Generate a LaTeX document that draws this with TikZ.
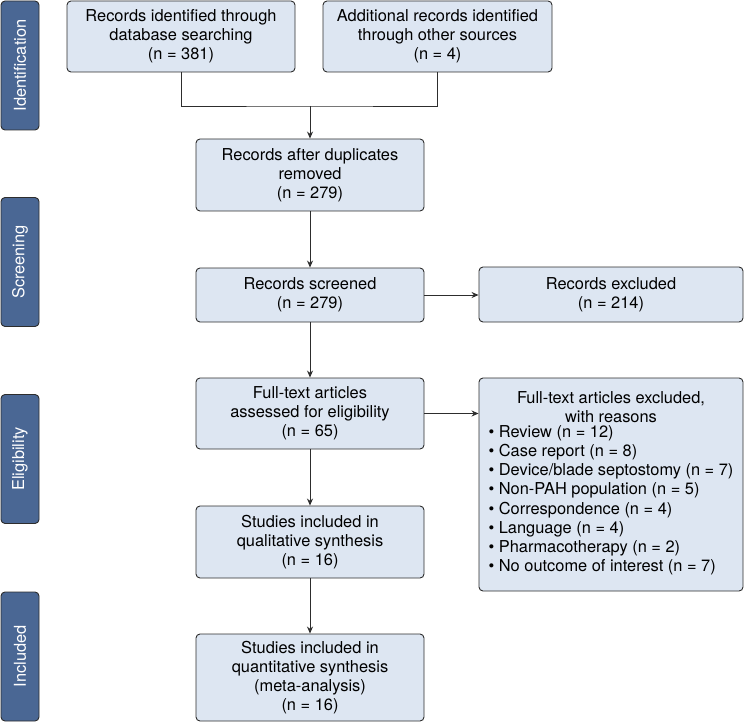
\documentclass[tikz,border=0pt]{standalone}
\usepackage{fontspec}
\setmainfont{TeX Gyre Heros}
\usetikzlibrary{arrows.meta}
\definecolor{boxfill}{RGB}{221,230,242}
\definecolor{sidefill}{RGB}{74,103,148}
\definecolor{edge}{RGB}{45,45,45}
\begin{document}
\begin{tikzpicture}[x=1pt, y=-1pt,
    font=\fontsize{16.4}{19.2}\selectfont,
    box/.style={draw=edge, fill=boxfill, rounded corners=4pt, line width=0.9pt, align=center, inner sep=0pt, minimum width=228pt},
    side/.style={draw=edge, fill=sidefill, rounded corners=4pt, line width=0.9pt, text=white, rotate=90, inner sep=0pt, minimum width=129pt, minimum height=38pt},
    arr/.style={-{Stealth[length=7pt,width=6pt]}, edge, line width=0.9pt},
    link/.style={edge, line width=0.9pt}]
    \useasboundingbox (0,0) rectangle (744,722);
    % phases on the left
    \node[side] (ident) at (20,65.5) {Identification};
    \node[side] (screen) at (20,262) {Screening};
    \node[side] (elig) at (20,459) {Eligibility};
    \node[side] (incl) at (20,656.5) {Included};
    % main column
    \node[box, minimum height=71pt] (rec1) at (181,36.5) {Records identified through\\database searching\\(n = 381)};
    \node[box, minimum height=71pt, minimum width=229pt] (rec2) at (437.5,36.5) {Additional records identified\\through other sources\\(n = 4)};
    \node[box, minimum height=72pt] (dup) at (310,175) {Records after duplicates\\removed\\(n = 279)};
    \node[box, minimum height=54pt] (screened) at (310,295) {Records screened\\(n = 279)};
    \node[box, minimum height=71pt] (full) at (310,413.5) {Full-text articles\\assessed for eligibility\\(n = 65)};
    \node[box, minimum height=72pt] (qual) at (310,542) {Studies included in\\qualitative synthesis\\(n = 16)};
    \node[box, minimum height=87pt] (quant) at (310,677.5) {Studies included in\\quantitative synthesis\\(meta-analysis)\\(n = 16)};
    % exclusions
    \node[box, minimum height=213pt, minimum width=264pt] (fullexcl) at (611,484.5) {Full-text articles excluded,\\with reasons\\[-0.2pt]
        \begin{tabular}{@{}l@{}}
        \textbullet\ Review (n = 12)\\
        \textbullet\ Case report (n = 8)\\
        \textbullet\ Device/blade septostomy (n = 7)\\
        \textbullet\ Non-PAH population (n = 5)\\
        \textbullet\ Correspondence (n = 4)\\
        \textbullet\ Language (n = 4)\\
        \textbullet\ Pharmacotherapy (n = 2)\\
        \textbullet\ No outcome of interest (n = 7)
        \end{tabular}};
    \node[box, minimum height=55pt, minimum width=264pt] (excl) at (611,294.5) {Records excluded\\(n = 214)};
    % connectors
    \coordinate (join) at (310,106);
    \draw[link] (rec1.south) |- (join) -| (rec2.south);
    \draw[arr] (join) -- (dup.north);
    \draw[arr] (dup) -- (screened);
    \draw[arr] (screened) -- (full);
    \draw[arr] (full) -- (qual);
    \draw[arr] (qual) -- (quant);
    \draw[arr] (screened.east) -- (screened.east -| excl.west);
    \draw[arr] (full.east) -- (full.east -| fullexcl.west);
\end{tikzpicture}
\end{document}
